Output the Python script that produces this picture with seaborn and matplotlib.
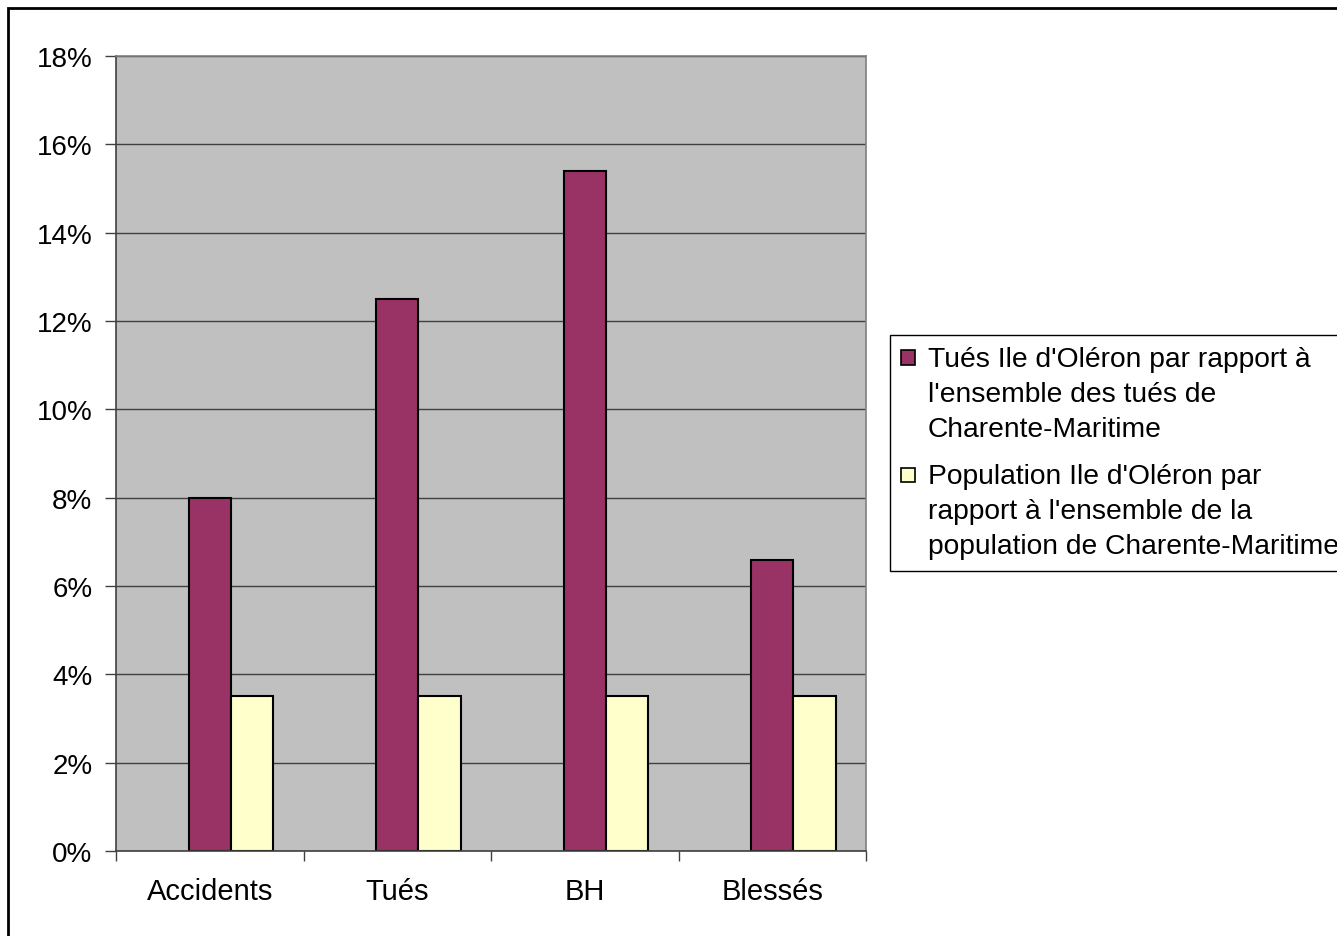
import matplotlib
matplotlib.use("Agg")
import matplotlib.pyplot as plt
import seaborn as sns
import pandas as pd
from matplotlib.patches import Rectangle
from matplotlib.ticker import FuncFormatter, FixedLocator
from matplotlib.legend_handler import HandlerPatch

categories = ["Accidents", "Tués", "BH", "Blessés"]
tues_oleron = [8.0, 12.5, 15.4, 6.6]
population_oleron = [3.5, 3.5, 3.5, 3.5]
series_names = [
    "Tués Ile d'Oléron par rapport à\nl'ensemble des tués de\nCharente-Maritime",
    "Population Ile d'Oléron par\nrapport à l'ensemble de la\npopulation de Charente-Maritime",
]
# le graphique d'origine garde une place vide a gauche de chaque paire
empty_series = "(vide)"
series_colors = ["#C0C0C0", "#993366", "#FFFFCC"]
y_ticks = [0, 2, 4, 6, 8, 10, 12, 14, 16, 18]

df = pd.DataFrame({
    "categorie": categories * 2,
    "valeur": tues_oleron + population_oleron,
    "serie": [series_names[0]] * 4 + [series_names[1]] * 4,
})

sns.set_theme(style="white")
plt.rcParams["font.family"] = ["Liberation Sans", "DejaVu Sans"]
plt.rcParams["font.size"] = 20

LINESPACING = 1.45


class TopSquare(HandlerPatch):
    # petit carre aligne sur la premiere ligne du libelle
    def __init__(self, offset=0.0, **kw):
        super().__init__(**kw)
        self.offset = offset

    def create_artists(self, legend, orig_handle, xdescent, ydescent,
                       width, height, fontsize, trans):
        size = 0.5 * fontsize
        p = Rectangle((-xdescent, -ydescent + (height - size) / 2 + self.offset * fontsize),
                      size, size, facecolor=orig_handle.get_facecolor(),
                      edgecolor="black", linewidth=1.2, transform=trans)
        return [p]


fig = plt.figure(figsize=(13.37, 9.37), dpi=100)
ax = fig.add_axes([116 / 1337, 1 - 852 / 937, 750 / 1337, 795 / 937])
ax.set_facecolor("#C0C0C0")

sns.barplot(data=df, x="categorie", y="valeur", hue="serie",
            hue_order=[empty_series] + series_names,
            palette=series_colors, saturation=1, width=0.675, edgecolor="black",
            linewidth=1.5, ax=ax)

ax.set_xlim(-0.5, 3.5)
ax.set_ylim(0, 18)
ax.yaxis.set_major_locator(FixedLocator(y_ticks))
ax.yaxis.set_major_formatter(FuncFormatter(lambda v, p: f"{v:.0f}%"))
ax.yaxis.grid(True, color="#404040", linewidth=1)
ax.set_axisbelow(True)
ax.set_xlabel("")
ax.set_ylabel("")

ax.xaxis.set_minor_locator(FixedLocator([-0.5, 0.5, 1.5, 2.5, 3.5]))
ax.tick_params(axis="x", which="major", length=0, pad=19, labelsize=21, colors="black")
ax.tick_params(axis="x", which="minor", length=7, width=1, direction="out", color="#404040")
ax.tick_params(axis="y", length=8, width=1, direction="out", pad=9, labelsize=20,
               color="#404040", labelcolor="black")
ax.xaxis.set_ticks_position("bottom")
ax.yaxis.set_ticks_position("left")

for side in ["top", "right"]:
    ax.spines[side].set_color("#808080")
    ax.spines[side].set_linewidth(1.2)
for side in ["left", "bottom"]:
    ax.spines[side].set_color("#404040")
    ax.spines[side].set_linewidth(1.2)

handles, labels = ax.get_legend_handles_labels()
pairs = [(h, l) for h, l in zip(handles, labels) if l in series_names]
handles = [h for h, l in pairs]
labels = [l for h, l in pairs]
leg = ax.legend(handles, labels, loc="upper left",
                bbox_to_anchor=(890 / 1337, 1 - 336 / 937), bbox_transform=fig.transFigure,
                frameon=True, fancybox=False, framealpha=1, edgecolor="black",
                borderpad=0.4, handlelength=0.5, handleheight=0.5, handletextpad=0.45,
                labelspacing=0.75, borderaxespad=0, fontsize=20.3,
                handler_map={h: TopSquare(offset=LINESPACING * 0.9) for h in handles})
leg.get_frame().set_linewidth(1)
for t in leg.get_texts():
    t.set_linespacing(LINESPACING)
    t.set_color("black")

# cadre exterieur du graphique
fig.patches.append(Rectangle((8 / 1337, -0.1), 1.2, 1 - 9 / 937 + 0.1, transform=fig.transFigure,
                             fill=False, edgecolor="black", linewidth=2, zorder=10))

fig.savefig("out.png", dpi=100)
